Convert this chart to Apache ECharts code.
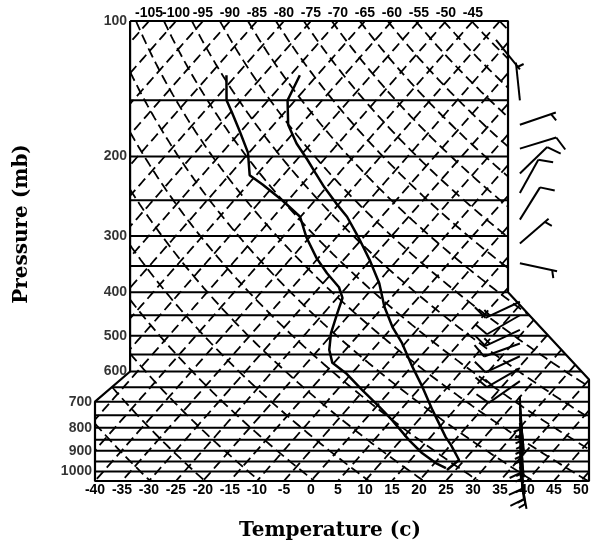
<!DOCTYPE html>
<html>
<head>
<meta charset="utf-8">
<script src="https://cdn.jsdelivr.net/npm/echarts/dist/echarts.min.js"></script>
<style>
  html, body { margin: 0; padding: 0; background: #fff; }
  #chart { width: 594px; height: 549px; }
</style>
</head>
<body>
<div id="chart"></div>
<script>
// ---- Sounding: temperature profile (mb, °C)
const tempPressure = [132, 150, 170, 187, 203, 217, 234, 254, 272, 296, 306, 339, 382, 431, 478, 519, 586, 649, 730, 839, 874, 943, 993];
const tempValues   = [-68.2, -66.4, -62.3, -57.7, -53.1, -49.5, -45.4, -40.6, -36.4, -32.0, -30.3, -25.2, -19.6, -14.8, -10.0, -5.6, 0.2, 5.3, 10.9, 17.8, 20.1, 24.0, 23.4];

// ---- Sounding: dew point profile (mb, °C)
const dewPressure = [132, 150, 160, 175, 196, 220, 231, 250, 272, 302, 336, 363, 390, 412, 445, 493, 537, 574, 605, 659, 719, 769, 852, 910, 958, 983];
const dewValues   = [-81.8, -77.7, -74.6, -70.4, -65.2, -61.2, -57.2, -51.1, -45.1, -40.6, -35.3, -30.9, -26.4, -24.0, -22.5, -20.4, -18.0, -15.3, -11.1, -5.4, 0.6, 5.1, 11.5, 16.0, 20.2, 22.9];

// ---- Winds (mb, direction deg, speed kt)
const windPressure = [128, 150, 170, 192, 218, 241, 276, 312, 345,
                      420, 450, 485, 520, 555, 590, 630,
                      680, 700, 720, 740, 760, 780, 800, 825, 850, 875, 900, 925, 950, 975, 1000];
const windDirection = [321, 354, 71, 73, 46, 29, 32, 49, 102,
                       245, 240, 245, 250, 245, 240, 235,
                       178, 176, 175, 174, 175, 176, 177, 175, 174, 175, 176, 175, 174, 172, 170];
const windSpeed = [0, 5, 5, 10, 10, 10, 10, 5, 5,
                   15, 10, 15, 10, 10, 15, 10,
                   5, 5, 5, 5, 5, 5, 5, 10, 5, 5, 10, 5, 10, 5, 5];

// ---- Axis tick labels
const bottomTickLabels = [-40, -35, -30, -25, -20, -15, -10, -5, 0, 5, 10, 15, 20, 25, 30, 35, 40, 45, 50];
const topTickLabels = [-105, -100, -95, -90, -85, -80, -75, -70, -65, -60, -55, -50, -45];
const pressureTickLabels = [100, 200, 300, 400, 500, 600, 700, 800, 900, 1000];

// ---- Background diagram lines
const isobarLevels = [150, 200, 250, 300, 350, 400, 450, 500, 550, 600, 650, 700, 750, 800, 850, 900, 950, 1000];
const isothermValues = [-110, -105, -100, -95, -90, -85, -80, -75, -70, -65, -60, -55, -50, -45, -40, -35, -30,
                        -25, -20, -15, -10, -5, 0, 5, 10, 15, 20, 25, 30, 35, 40, 45, 50];
const dryAdiabatThetas = [230, 240, 250, 260, 270, 280, 290, 300, 310, 320, 330, 340, 350, 360, 370, 380,
                          390, 400, 410, 420, 430, 440, 450, 460, 470];

// ---- Diagram outline in (skewed temperature, pressure)
const frameX = [-33.5, 36.5, 36.5, 51.5, 51.5, -40, -40, -33.5];
const frameP = [100, 100, 400, 625, 1050, 1050, 700, 600];

const P_TOP = 100, P_BOT = 1050;
const X_MIN = -40, X_MAX = 51.5;
const TOP_SHIFT = 75;                                  // isotherm shift between bottom and top edges
const SKEW = TOP_SHIFT / Math.log(P_BOT / P_TOP);      // °C per unit of ln p
const BARB_X = 38.7;                                   // column where wind barbs are planted

function skewX(t, p) { return t + SKEW * Math.log(P_BOT / p); }

function insideFrame(x, p) {
  const y = Math.log(p);
  let c = false;
  const n = frameX.length;
  for (let i = 0, j = n - 1; i < n; j = i++) {
    const xi = frameX[i], yi = Math.log(frameP[i]);
    const xj = frameX[j], yj = Math.log(frameP[j]);
    if ((yi > y) !== (yj > y) && x < (xj - xi) * (y - yi) / (yj - yi) + xi) c = !c;
  }
  return c;
}

// Sample a curve f(s) -> [x, p] and keep only the parts inside the outline.
function clipCurve(f, s0, s1, n) {
  const pieces = [];
  let cur = null;
  let prevS = s0;
  const first = f(s0);
  let prevIn = insideFrame(first[0], first[1]);
  if (prevIn) cur = [first];
  for (let i = 1; i <= n; i++) {
    const s = s0 + (s1 - s0) * i / n;
    const pt = f(s);
    const isIn = insideFrame(pt[0], pt[1]);
    if (isIn !== prevIn) {
      let a = prevS, b = s;
      for (let k = 0; k < 30; k++) {
        const m = (a + b) / 2;
        const q = f(m);
        if (insideFrame(q[0], q[1]) === prevIn) a = m; else b = m;
      }
      const edge = f((a + b) / 2);
      if (prevIn) { cur.push(edge); if (cur.length > 1) pieces.push(cur); cur = null; }
      else { cur = [edge]; }
    }
    if (isIn) cur.push(pt);
    prevIn = isIn; prevS = s;
  }
  if (cur && cur.length > 1) pieces.push(cur);
  return pieces;
}

const EPS = 1e-7;
const LNP0 = Math.log(P_TOP) + EPS, LNP1 = Math.log(P_BOT) - EPS;
const series = [];

function addPieces(pieces, style, z) {
  pieces.forEach(piece => series.push({
    type: 'line', data: piece, symbol: 'none', showSymbol: false, silent: true,
    animation: false, z: z, lineStyle: style
  }));
}

const dashStyle = { color: '#000', width: 1.8, type: [10, 5] };

// isotherms
isothermValues.forEach(t => {
  addPieces(clipCurve(s => { const p = Math.exp(s); return [skewX(t, p), p]; }, LNP0, LNP1, 200), dashStyle, 1);
});

// dry adiabats
dryAdiabatThetas.forEach(th => {
  addPieces(clipCurve(s => {
    const p = Math.exp(s);
    const t = th * Math.pow(p / 1000, 0.2857) - 273.15;
    return [skewX(t, p), p];
  }, LNP0, LNP1, 300), dashStyle, 1);
});

// isobars
isobarLevels.forEach(p => {
  addPieces(clipCurve(x => [x, p], X_MIN + EPS, X_MAX - EPS, 400), { color: '#000', width: 2, type: 'solid' }, 2);
});

// outline
series.push({
  type: 'line', symbol: 'none', silent: true, animation: false, z: 6,
  data: frameX.map((x, i) => [x, frameP[i]]).concat([[frameX[0], frameP[0]]]),
  lineStyle: { color: '#000', width: 2.2 }
});

// sounding curves
series.push({
  type: 'line', symbol: 'none', silent: true, animation: false, z: 5,
  data: tempPressure.map((p, i) => [skewX(tempValues[i], p), p]),
  lineStyle: { color: '#000', width: 2.5 }
});
series.push({
  type: 'line', symbol: 'none', silent: true, animation: false, z: 5,
  data: dewPressure.map((p, i) => [skewX(dewValues[i], p), p]),
  lineStyle: { color: '#000', width: 2.5 }
});

// pressure labels along the left edge of the outline
function leftEdgeX(p) { return p <= 600 ? frameX[0] : X_MIN; }
series.push({
  type: 'scatter', symbolSize: 0, silent: true, animation: false, z: 10,
  data: pressureTickLabels.map(p => [leftEdgeX(p), p]),
  label: {
    show: true, position: 'left', distance: 3, color: '#000',
    fontFamily: 'Liberation Sans', fontWeight: 'bold', fontSize: 14,
    formatter: prm => String(prm.value[1])
  }
});

// wind barbs
const STAFF = 38, FULL = 15, HALF = 8, SPACING = 5;
series.push({
  type: 'custom', coordinateSystem: 'cartesian2d', clip: false, silent: true, animation: false, z: 10,
  data: windPressure.map((p, i) => [BARB_X, p, windDirection[i], windSpeed[i]]),
  renderItem: (params, api) => {
    const base = api.coord([api.value(0), api.value(1)]);
    const d = api.value(2) * Math.PI / 180;
    const ux = Math.sin(d), uy = -Math.cos(d);
    const tip = [base[0] + ux * STAFF, base[1] + uy * STAFF];
    const st = { stroke: '#000', lineWidth: 2 };
    const kids = [{ type: 'line', shape: { x1: base[0], y1: base[1], x2: tip[0], y2: tip[1] }, style: st }];
    const a = Math.atan2(uy, ux) + 70 * Math.PI / 180;
    const fx = Math.cos(a), fy = Math.sin(a);
    let rem = Math.round(api.value(3) / 5) * 5, pos = 0;
    while (rem >= 10) {
      const px = tip[0] - ux * pos, py = tip[1] - uy * pos;
      kids.push({ type: 'line', shape: { x1: px, y1: py, x2: px + fx * FULL, y2: py + fy * FULL }, style: st });
      rem -= 10; pos += SPACING;
    }
    if (rem >= 5) {
      if (pos === 0) pos = SPACING;
      const px = tip[0] - ux * pos, py = tip[1] - uy * pos;
      kids.push({ type: 'line', shape: { x1: px, y1: py, x2: px + fx * HALF, y2: py + fy * HALF }, style: st });
    }
    return { type: 'group', children: kids };
  }
});

const tickFont = { color: '#000', fontFamily: 'Liberation Sans', fontWeight: 'bold', fontSize: 14 };

const option = {
  backgroundColor: '#fff',
  animation: false,
  grid: { left: 95, top: 21, width: 494, height: 460, containLabel: false, outerBoundsMode: 'none' },
  xAxis: [
    {
      type: 'value', min: X_MIN, max: X_MAX, interval: 5, position: 'bottom',
      axisLine: { show: false }, axisTick: { show: false }, splitLine: { show: false },
      axisLabel: Object.assign({ margin: 2, formatter: v => bottomTickLabels.includes(v) ? String(v) : '' }, tickFont)
    },
    {
      type: 'value', min: X_MIN, max: X_MAX, interval: 5, position: 'top',
      axisLine: { show: false }, axisTick: { show: false }, splitLine: { show: false },
      axisLabel: Object.assign({ margin: 1, formatter: v => {
        const t = Math.round(v - TOP_SHIFT);
        return topTickLabels.includes(t) ? String(t) : '';
      } }, tickFont)
    }
  ],
  yAxis: {
    type: 'log', logBase: 10, min: P_TOP, max: P_BOT, inverse: true,
    axisLine: { show: false }, axisTick: { show: false }, axisLabel: { show: false }, splitLine: { show: false }
  },
  graphic: [
    { type: 'text', x: 330, y: 531, style: { text: 'Temperature (c)', fill: '#000',
      font: 'bold 20px "DejaVu Serif"', align: 'center', verticalAlign: 'middle',
      textAlign: 'center', textVerticalAlign: 'middle' } },
    { type: 'text', x: 22, y: 224, rotation: Math.PI / 2, style: { text: 'Pressure (mb)', fill: '#000',
      font: 'bold 20px "DejaVu Serif"', align: 'center', verticalAlign: 'middle',
      textAlign: 'center', textVerticalAlign: 'middle' } }
  ],
  series: series
};

const chart = echarts.init(document.getElementById('chart'), null, { renderer: 'canvas' });
chart.setOption(option);
</script>
</body>
</html>
